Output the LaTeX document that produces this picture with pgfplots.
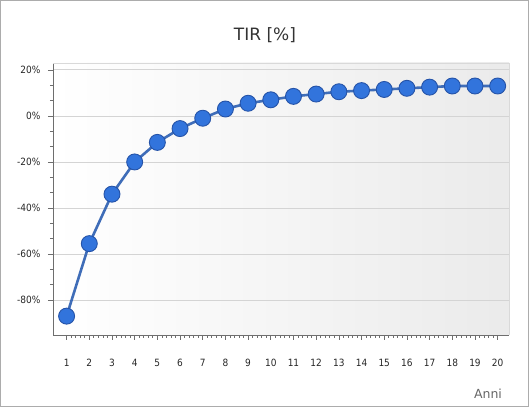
\documentclass[border=0pt]{standalone}
\usepackage{pgfplots}
\pgfplotsset{compat=1.18}
\usepackage{fontspec}
\setmainfont{DejaVu Sans}
\newfontfamily\condfont{DejaVu Sans Condensed}
\definecolor{linecol}{HTML}{3F6DB8}
\definecolor{ballcol}{HTML}{3274DC}
\definecolor{balledge}{HTML}{2553A8}
\definecolor{gridcol}{HTML}{D4D4D4}
\definecolor{axcol}{HTML}{6E6E6E}
\pgfplotstableread{
x y
1 -87
2 -55.5
3 -34
4 -20
5 -11.5
6 -5.5
7 -1
8 3
9 5.5
10 7
11 8.5
12 9.5
13 10.5
14 11
15 11.5
16 12
17 12.5
18 13
19 13
20 13
}\tirdata
\begin{document}
\begin{tikzpicture}
\useasboundingbox (0,0) rectangle (529bp,407bp);
\draw[gray!65, line width=1.2bp] (0.8bp,0.8bp) rectangle (528.2bp,406.2bp);
\node[font=\fontsize{17bp}{20bp}\selectfont, text=black!80] at (265bp,372bp) {TIR [\%]};
\node[font=\fontsize{12.5bp}{15bp}\selectfont, text=black!60] at (488bp,13bp) {Anni};
\begin{axis}[
  at={(53bp,72bp)}, anchor=south west,
  scale only axis, width=456bp, height=272bp,
  xmin=0.4, xmax=20.5, ymin=-95.2, ymax=23,
  axis background/.style={shade, shading angle=60, left color=white, right color=black!8},
  axis x line*=bottom, axis y line*=left,
  axis line style={axcol, line width=0.8bp},
  tick align=outside,
  tick style={axcol, line width=0.7bp},
  major tick length=5bp, minor tick length=3bp,
  xtick={1,...,20},
  minor x tick num=4,
  ytick={-80,-60,-40,-20,0,20},
  minor y tick num=2,
  ymajorgrids,
  major grid style={gridcol, line width=0.8bp},
  /pgf/number format/assume math mode=true,
  yticklabel={\pgfmathprintnumber{\tick}\%},
  ticklabel style={font=\condfont\fontsize{10bp}{12bp}\selectfont, text=black!85},
  xticklabel style={yshift=-16bp},
  yticklabel style={xshift=-4bp},
  clip=false,
]
\addplot[draw=gray!30, line width=0.6bp, forget plot] coordinates {(0.4,23) (20.5,23) (20.5,-95.2)};
\addplot[linecol, line width=2.6bp, mark=*, mark size=8bp, mark options={fill=ballcol, draw=balledge, line width=0.9bp}] table[x=x,y=y] {\tirdata};
\end{axis}
\end{tikzpicture}
\end{document}
